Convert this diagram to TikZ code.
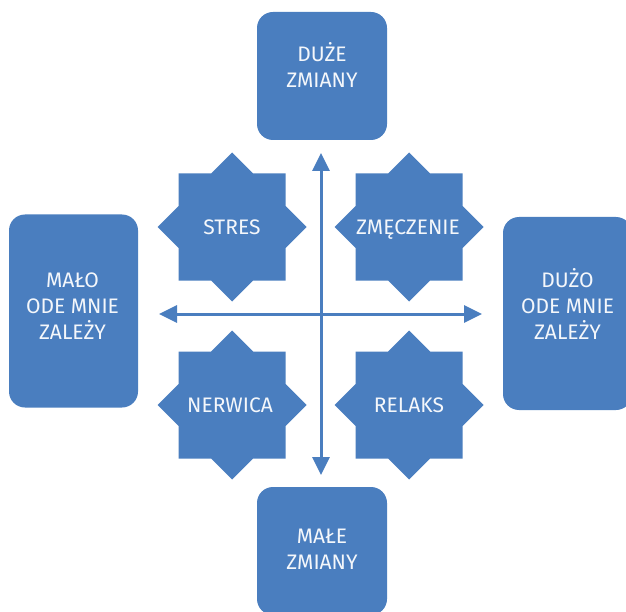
\documentclass[tikz,border=0pt]{standalone}
\usepackage{fontspec}
\setmainfont{Fira Sans}
\usetikzlibrary{arrows.meta}

\definecolor{shapeblue}{HTML}{4A7EBF}
\definecolor{labelwhite}{HTML}{F4F7FB}

\tikzset{
  quadbox/.style={draw=none, fill=shapeblue, rounded corners=16pt, inner sep=0pt},
  widebox/.style={quadbox, minimum width=130pt, minimum height=128pt},
  tallbox/.style={quadbox, minimum width=129pt, minimum height=193pt},
  boxtext/.style={text=labelwhite, align=center, inner sep=0pt, anchor=base,
    font=\fontsize{21}{26}\selectfont},
  startext/.style={text=labelwhite, inner sep=0pt, anchor=base,
    font=\fontsize{21}{26}\selectfont},
  axis/.style={draw=shapeblue, line width=3pt,
    {Triangle[length=18pt,width=17pt]}-{Triangle[length=18pt,width=17pt]}},
}

% eight-pointed star: axis-aligned square (half side 53.5) joined with a diamond (radius 74.5)
\newcommand\octostar[5]{%
  \fill[shapeblue, shift={(#2,#3)}]
    (0,-74.5) -- (21,-53.5) -- (53.5,-53.5) -- (53.5,-21) -- (74.5,0)
    -- (53.5,21) -- (53.5,53.5) -- (21,53.5) -- (0,74.5) -- (-21,53.5)
    -- (-53.5,53.5) -- (-53.5,21) -- (-74.5,0) -- (-53.5,-21)
    -- (-53.5,-53.5) -- (-21,-53.5) -- cycle;
  \coordinate (#1) at (#2,#3);
  \node[startext] (#1text) at (#4,#3+7.5) {#5};
}

\begin{document}
\begin{tikzpicture}[x=1pt, y=-1pt]
  \useasboundingbox (0,0) rectangle (626,612);

  % outer boxes (text anchored at the baseline of its last line)
  \node[widebox] (big) at (322,76) {};
  \node[boxtext] (bigtext) at (322,88) {DUŻE\\ZMIANY};

  \node[widebox] (small) at (322,551) {};
  \node[boxtext] (smalltext) at (322,569) {MAŁE\\ZMIANY};

  \node[tallbox] (little) at (73.5,311) {};
  \node[boxtext] (littletext) at (72.5,339) {MAŁO\\ODE MNIE\\ZALEŻY};

  \node[tallbox] (much) at (567.5,313.5) {};
  \node[boxtext] (muchtext) at (567.5,339.5) {DUŻO\\ODE MNIE\\ZALEŻY};

  % four quadrant stars
  \octostar{stres}{232}{227}{232}{STRES}
  \octostar{fatigue}{409}{227}{408}{ZMĘCZENIE}
  \octostar{neurosis}{232}{405}{230}{NERWICA}
  \octostar{relax}{409}{405}{409}{RELAKS}

  % axes
  \coordinate (xl) at (159,314);
  \coordinate (xr) at (482,314);
  \coordinate (yt) at (321,153);
  \coordinate (yb) at (321,475);
  \draw[axis] (xl) -- (xr);
  \draw[axis] (yb) -- (yt);
\end{tikzpicture}
\end{document}
